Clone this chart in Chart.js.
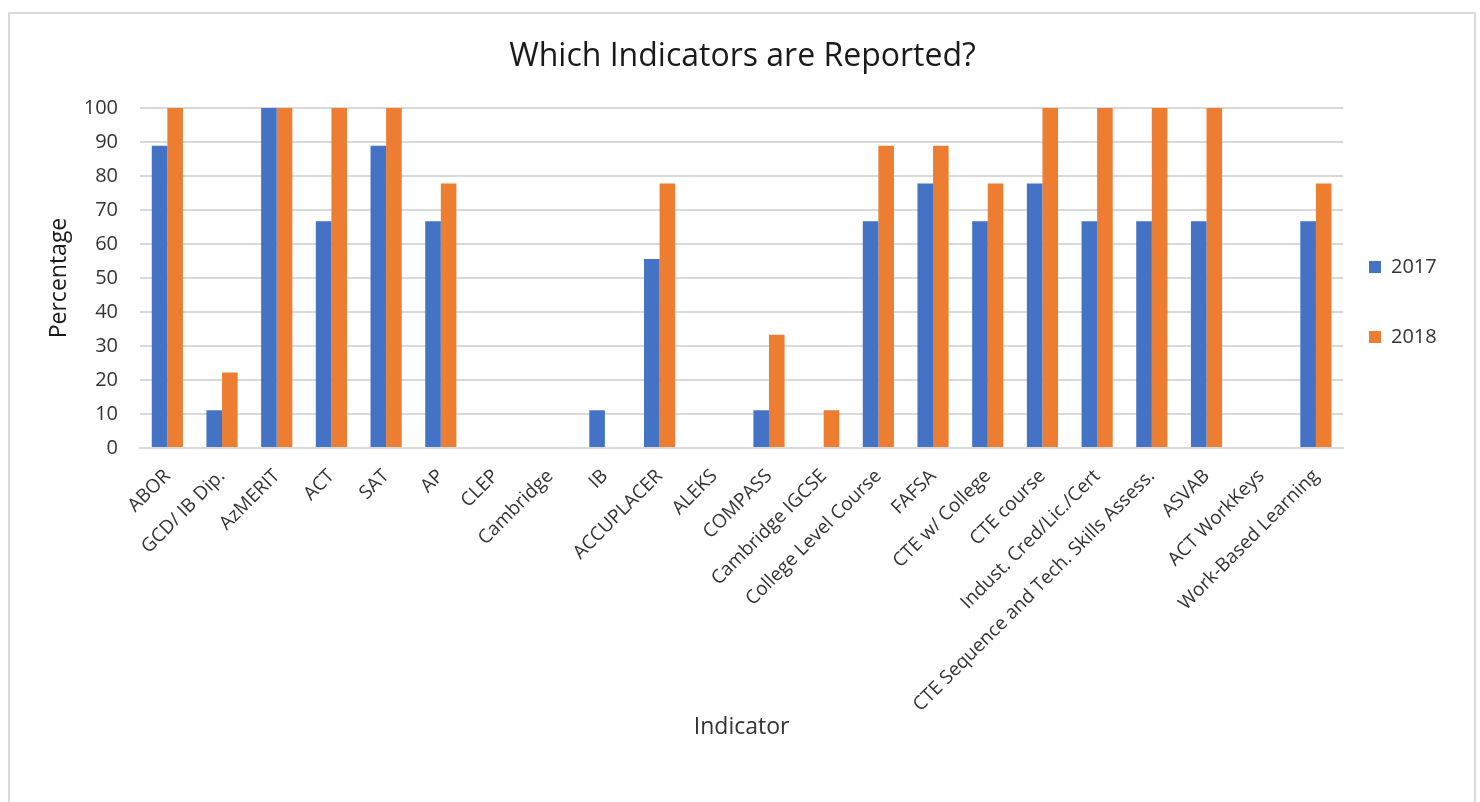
<!DOCTYPE html>
<html><head><meta charset="utf-8">
<script src="https://cdn.jsdelivr.net/npm/chart.js@4/dist/chart.umd.min.js"></script>
<style>html,body{margin:0;padding:0;background:#fff}#wrap{width:1480px;height:802px;position:relative}</style>
</head><body><div id="wrap"><canvas id="c" width="1480" height="802"></canvas></div>
<script>
const categories = ["ABOR","GCD/ IB Dip.","AzMERIT","ACT","SAT","AP","CLEP","Cambridge","IB","ACCUPLACER","ALEKS","COMPASS","Cambridge IGCSE","College Level Course","FAFSA","CTE w/ College","CTE course","Indust. Cred/Lic./Cert","CTE Sequence and Tech. Skills Assess.","ASVAB","ACT WorkKeys","Work-Based Learning"];
const values2017 = [88.9,11.1,100,66.7,88.9,66.7,0,0,11.1,55.6,0,11.1,0,66.7,77.8,66.7,77.8,66.7,66.7,66.7,0,66.7];
const values2018 = [100,22.2,100,100,100,77.8,0,0,0,77.8,0,33.3,11.1,88.9,88.9,77.8,100,100,100,100,0,77.8];
const yTicks = [0,10,20,30,40,50,60,70,80,90,100];
const seriesNames = ["2017","2018"];

const FONT = "'Open Sans', 'Noto Sans', sans-serif";
const TXT = "#333333";

const frame = {
  id: 'frame',
  beforeDraw(chart) {
    const ctx = chart.ctx;
    ctx.save();
    ctx.fillStyle = '#fff';
    ctx.fillRect(0,0,chart.width,chart.height);
    ctx.strokeStyle = '#D9D9D9';
    ctx.lineWidth = 2;
    ctx.strokeRect(9,13,1466,820);
    ctx.restore();
  }
};

const boxPos = {
  id: 'boxPos',
  afterLayout(chart) {
    const L = chart.legend;
    if (L) {
      const w = L.width;
      L.left = 1319; L.right = 1319 + w;
      L.top = 0; L.bottom = 604; L.height = 604;
    }
    const T = chart.titleBlock;
    if (T) { T.left -= 13; T.right -= 13; }
  }
};

new Chart(document.getElementById('c'), {
  type: 'bar',
  data: {
    labels: categories,
    datasets: [
      {label: seriesNames[0], data: values2017, backgroundColor: '#4472C4', categoryPercentage: 0.57, barPercentage: 1},
      {label: seriesNames[1], data: values2018, backgroundColor: '#ED7D31', categoryPercentage: 0.57, barPercentage: 1}
    ]
  },
  options: {
    responsive: false,
    animation: false,
    layout: {padding: {left: 40, right: 9, top: 0, bottom: 60}},
    plugins: {
      title: {display: true, text: 'Which Indicators are Reported?', color: '#1a1a1a', font: {family: FONT, size: 32, weight: 'normal'}, padding: {top: 37.8, bottom: 31.8}},
      legend: {position: 'right', labels: {color: TXT, font: {family: FONT, size: 20}, boxWidth: 12, boxHeight: 12, padding: 50}},
      tooltip: {enabled: false}
    },
    scales: {
      x: {
        grid: {display: false},
        border: {display: true, color: '#D9D9D9', width: 2},
        ticks: {color: TXT, font: {family: FONT, size: 19}, minRotation: 45, maxRotation: 45, autoSkip: false, padding: 9},
        title: {display: true, text: 'Indicator', color: TXT, font: {family: FONT, size: 23}, padding: {top: 4, bottom: 1}},
        afterFit(s) { s.height = 294; }
      },
      y: {
        min: 0, max: 100,
        afterBuildTicks(s) { s.ticks = yTicks.map(v => ({value: v})); },
        grid: {color: '#D9D9D9', lineWidth: 2, drawTicks: false},
        border: {display: false},
        ticks: {color: TXT, font: {family: FONT, size: 20}, padding: 22},
        title: {display: true, text: 'Percentage', color: '#1a1a1a', font: {family: FONT, size: 23}, padding: {top: 6, bottom: 0}},
        afterFit(s) { s.width = 100; }
      }
    }
  },
  plugins: [frame, boxPos]
});
</script></body></html>
